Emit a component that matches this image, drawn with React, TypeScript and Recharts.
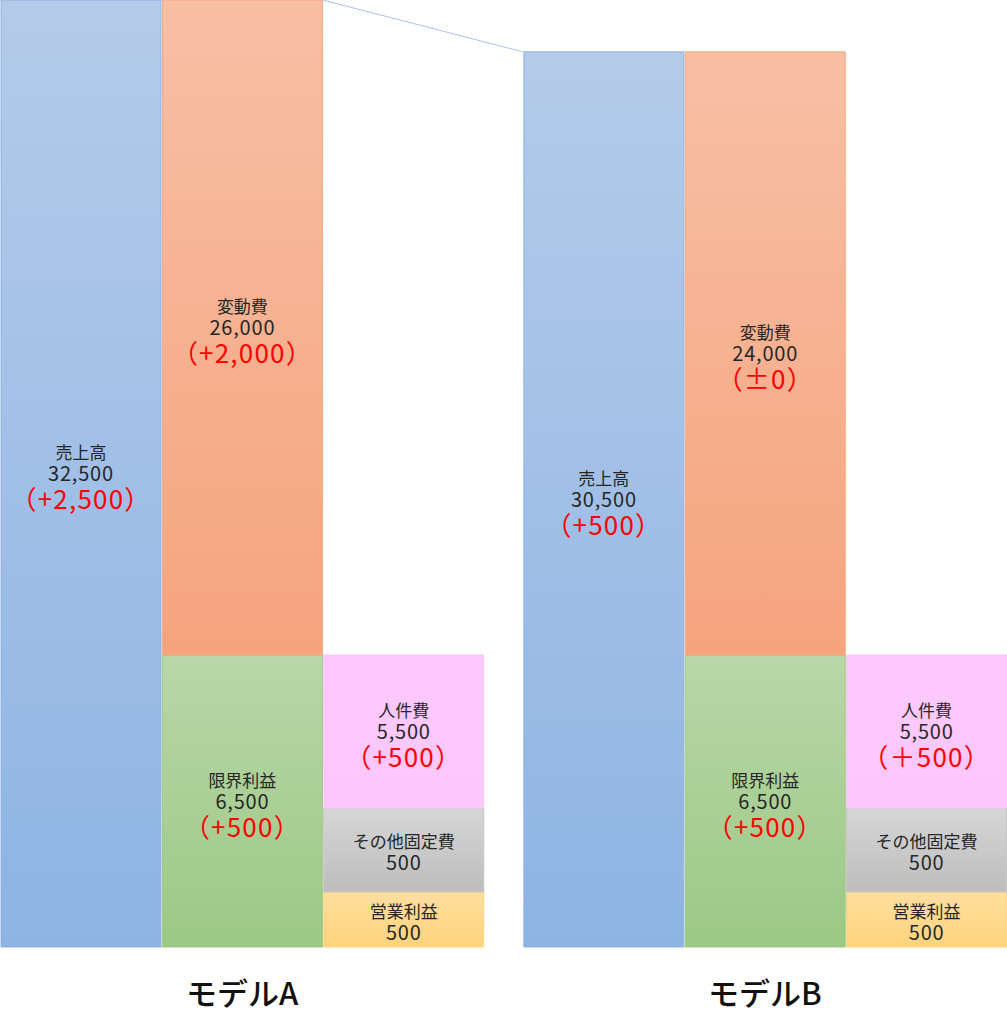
import { BarChart, Bar, XAxis, YAxis, LabelList, ReferenceLine } from "recharts";

const models = ["モデルA", "モデルB"];
const itemKeys = ["sales", "variable", "marginal", "personnel", "other", "operating"];
const itemNames = ["売上高", "変動費", "限界利益", "人件費", "その他固定費", "営業利益"];

// values written in the boxes
const valuesA = [32500, 26000, 6500, 5500, 500, 500];
const valuesB = [30500, 24000, 6500, 5500, 500, 500];
const changesA = ["（+2,500）", "（+2,000）", "（+500）", "（+500）", "", ""];
const changesB = ["（+500）", "（±0）", "（+500）", "（＋500）", "", ""];

// box heights as drawn (the lower boxes are not to scale in the picture)
const drawnA = [32500, 22480, 10020, 5250, 2880, 1890];
const drawnB = [30720, 20700, 10020, 5250, 2880, 1890];

// which items sit in each column, bottom first
const columnItems = [["sales"], ["marginal", "variable"], ["operating", "other", "personnel"]];
const GROUP_GAP = 0.24;

const COLORS: Record<string, { top: string; bottom: string; stroke: string }> = {
  sales: { top: "#b4cbea", bottom: "#8eb4e3", stroke: "#8db3e2" },
  variable: { top: "#f8bfa5", bottom: "#f5a47d", stroke: "#f6a77e" },
  marginal: { top: "#b9d7a8", bottom: "#9cc885", stroke: "#9cc886" },
  personnel: { top: "#fdc9fd", bottom: "#fdc7fd", stroke: "#fcc4fc" },
  other: { top: "#d6d6d6", bottom: "#bdbdbd", stroke: "#c4c4c4" },
  operating: { top: "#ffdf9f", bottom: "#ffd37d", stroke: "#ffd47f" },
};

const values = [valuesA, valuesB];
const changes = [changesA, changesB];
const drawn = [drawnA, drawnB];

const rows: any[] = [];
models.forEach((model, g) => {
  columnItems.forEach((items, c) => {
    const row: any = { slot: g * (3 + GROUP_GAP) + c + 0.5, model };
    items.forEach((key) => {
      const i = itemKeys.indexOf(key);
      row[key] = drawn[g][i];
      row[key + "Label"] = [itemNames[i], values[g][i].toLocaleString("en-US"), changes[g][i]].join("|");
    });
    rows.push(row);
  });
});

const groupCenters = models.map((_, g) => g * (3 + GROUP_GAP) + 1.5);
const FONT = "'Noto Sans CJK JP', 'Noto Sans', sans-serif";

const BoxLabel = (props: any) => {
  const { x, y, width, height, value } = props;
  if (typeof value !== "string" || !value) return null;
  const [name, amount, change] = value.split("|");
  const cx = x + width / 2;
  const cy = y + height / 2;
  const three = !!change;
  return (
    <g fontFamily={FONT} textAnchor="middle">
      <text x={cx} y={three ? cy - 22 : cy - 9} fontSize={17} fill="#262626" dominantBaseline="central">
        {name}
      </text>
      <text x={cx} y={three ? cy - 1 : cy + 12} fontSize={20} fill="#262626" dominantBaseline="central" letterSpacing={0.8}>
        {amount}
      </text>
      {three && (
        <text x={cx} y={cy + 24} fontSize={26} fill="#ff0000" dominantBaseline="central" letterSpacing={1.2}>
          {change}
        </text>
      )}
    </g>
  );
};

const ModelTick = (props: any) => {
  const { x, y, payload } = props;
  const idx = groupCenters.findIndex((v) => Math.abs(v - payload.value) < 0.01);
  return (
    <text x={x} y={y + 36} textAnchor="middle" dominantBaseline="central" fontFamily={FONT} fontSize={31} fontWeight={500} fill="#111">
      {models[idx]}
    </text>
  );
};

const App = () => {
  const bLeft = 3 + GROUP_GAP;
  return (
    <div style={{ position: "absolute", left: 0, top: 0, background: "#fff" }}>
      <BarChart width={1007} height={1024} data={rows} margin={{ top: 0, right: 0, bottom: 0, left: 0 }}>
        <defs>
          {itemKeys.map((key) => (
            <linearGradient key={key} id={`grad-${key}`} x1="0" y1="0" x2="0" y2="1">
              <stop offset="0%" stopColor={COLORS[key].top} />
              <stop offset="100%" stopColor={COLORS[key].bottom} />
            </linearGradient>
          ))}
        </defs>
        <XAxis
          type="number"
          dataKey="slot"
          domain={[0, 6 + GROUP_GAP]}
          ticks={groupCenters}
          axisLine={false}
          tickLine={false}
          height={77}
          tick={<ModelTick />}
        />
        <YAxis hide domain={[0, valuesA[0]]} />
        {["sales", "marginal", "variable", "operating", "other", "personnel"].map((key) => (
          <Bar
            key={key}
            dataKey={key}
            stackId="s"
            barSize={160}
            fill={`url(#grad-${key})`}
            stroke={COLORS[key].stroke}
            strokeWidth={1}
            isAnimationActive={false}
          >
            <LabelList dataKey={key + "Label"} content={BoxLabel} />
          </Bar>
        ))}
        <ReferenceLine
          segment={[
            { x: 2, y: drawnA[0] },
            { x: bLeft, y: drawnB[0] },
          ]}
          stroke="#a9c3ea"
          strokeWidth={1}
          ifOverflow="visible"
        />
      </BarChart>
    </div>
  );
};

export default App;
